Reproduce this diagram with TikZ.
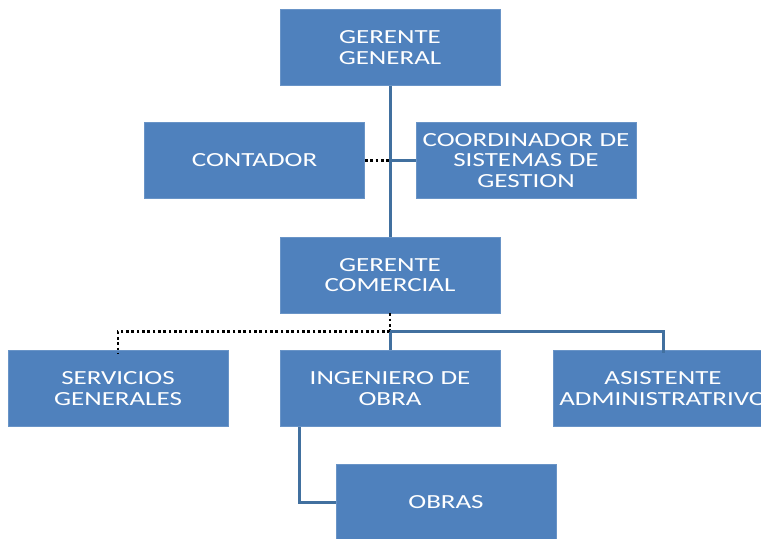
\documentclass[tikz,border=0pt]{standalone}
\usepackage{fontspec}
\setmainfont[FakeStretch=1.35]{Carlito}
\definecolor{boxblue}{HTML}{4F81BD}
\definecolor{lineblue}{HTML}{41709F}
\tikzset{
	post/.style={draw=boxblue!85!white, line width=0.6pt, fill=boxblue, text=white,
		minimum width=165pt, minimum height=57pt, text width=160pt, align=center,
		inner sep=0pt, font=\fontsize{15}{15.5}\selectfont},
	link/.style={draw=lineblue, line width=2.25pt},
	dotlink/.style={draw=black, line width=2pt, dotted}
}
\begin{document}
\begin{tikzpicture}[x=0.75pt, y=-0.75pt]
		\pgfmathsetmacro{\midx}{390}
		\pgfmathsetmacro{\rowthree}{388.5}
		
		\clip (0,0) rectangle (761,539);
		
		\node[post] (gg) at (\midx, 47.5) {GERENTE\\GENERAL};
		\node[post] (cont) at (254.5, 160.5) {CONTADOR};
		\node[post] (coord) at (526, 160.5) {COORDINADOR DE\\SISTEMAS DE\\GESTION};
		\node[post] (gc) at (\midx, 275) {GERENTE\\COMERCIAL};
		\node[post] (serv) at (118, \rowthree) {SERVICIOS\\GENERALES};
		\node[post] (ing) at (\midx, \rowthree) {INGENIERO DE\\OBRA};
		\node[post] (asis) at (663, \rowthree) {ASISTENTE\\\makebox[0pt]{ADMINISTRATRIVO}};
		\node[post] (obras) at (446, 502) {OBRAS};
		
		\coordinate (staff) at (\midx, 160.5);
		\coordinate (fork) at (\midx, 331.5);
		
		\draw[link] (gg.south) -- (gc.north);
		\draw[dotlink] (cont.east) -- (staff);
		\draw[link] (staff) -- (coord.west);
		\draw[dotlink] (gc.south) -- (fork);
		\draw[dotlink] (fork) -| ([yshift=-3pt]serv.north);
		\draw[link] (fork) -- (ing.north);
		\draw[link] (fork) -| ([yshift=-2pt]asis.north);
		\draw[link] ([xshift=15pt]ing.south west) |- (obras.west);
	\end{tikzpicture}
\end{document}
